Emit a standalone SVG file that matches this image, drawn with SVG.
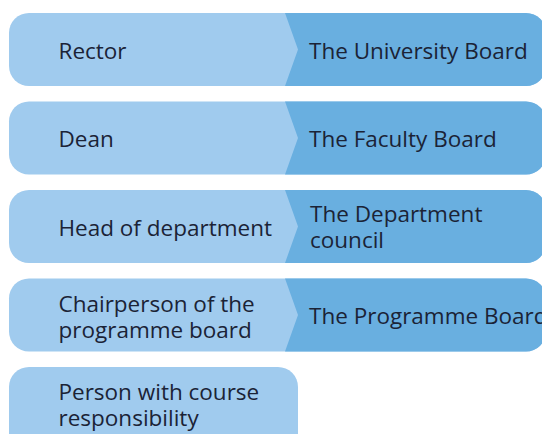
<svg xmlns="http://www.w3.org/2000/svg" width="542" height="434" viewBox="0 0 542 434">
  <style>
    .role { fill: #a0cbee; }
    .body { fill: #69afe0; }
    text { font-family: "Open Sans", "Noto Sans", sans-serif; font-size: 22.5px; fill: #1b2336; }
  </style>
  <defs>
    <!-- dark right-hand panel with a chevron on its left edge, row height 73 -->
    <path id="panel" d="M285,0 L298,36.5 L285,73 H526 A20,20 0 0 0 546,53 V20 A20,20 0 0 0 526,0 Z"/>
  </defs>
  <rect width="542" height="434" fill="#ffffff"/>

  <g id="rector">
    <rect class="role" x="9" y="13" width="537" height="73" rx="20"/>
    <use href="#panel" class="body" x="0" y="13"/>
    <text x="58.5" y="58.7">Rector</text>
    <text x="309" y="58.7">The University Board</text>
  </g>

  <g id="dean">
    <rect class="role" x="9" y="101.5" width="537" height="73" rx="20"/>
    <use href="#panel" class="body" x="0" y="101.5"/>
    <text x="58.5" y="147.3">Dean</text>
    <text x="309" y="147.3">The Faculty Board</text>
  </g>

  <g id="head-of-department">
    <rect class="role" x="9" y="190" width="537" height="73" rx="20"/>
    <use href="#panel" class="body" x="0" y="190"/>
    <text x="58.5" y="235.5">Head of department</text>
    <text x="310" y="222">The Department<tspan x="310" y="248.3">council</tspan></text>
  </g>

  <g id="programme-chair">
    <rect class="role" x="9" y="278.5" width="537" height="73" rx="20"/>
    <use href="#panel" class="body" x="0" y="278.5"/>
    <text x="58.5" y="311.5">Chairperson of the<tspan x="58.5" y="337.5">programme board</tspan></text>
    <text x="309" y="324">The Programme Board</text>
  </g>

  <g id="course-responsible">
    <rect class="role" x="9" y="367" width="289" height="90" rx="20"/>
    <text x="58.5" y="399.5">Person with course<tspan x="58.5" y="425.5">responsibility</tspan></text>
  </g>

  <g id="connectors"/>
</svg>
